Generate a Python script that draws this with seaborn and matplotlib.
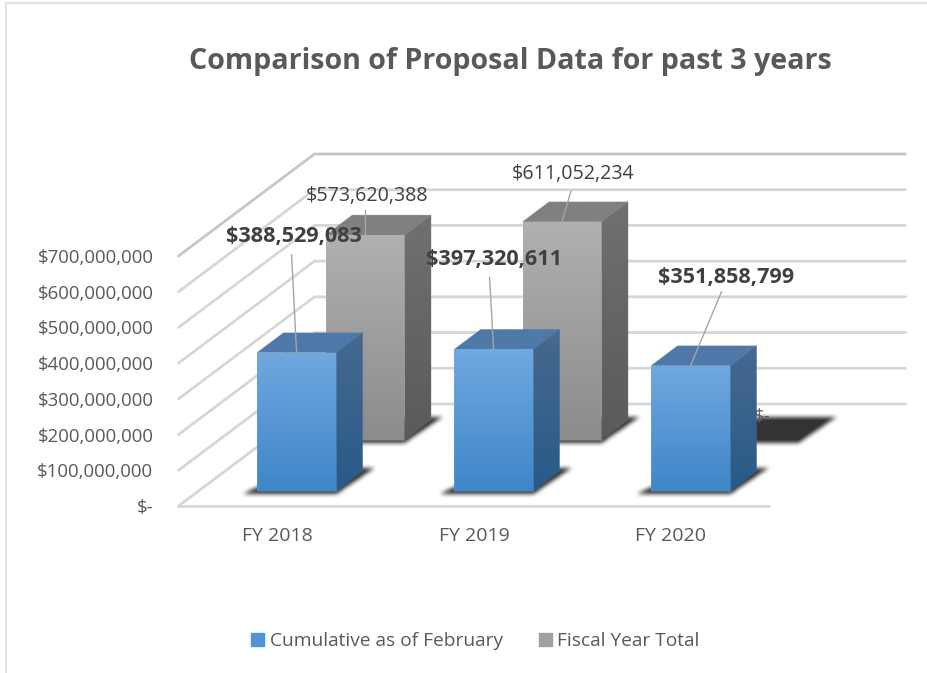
import numpy as np
import pandas as pd
import seaborn as sns
import matplotlib.pyplot as plt
from matplotlib.colors import LinearSegmentedColormap
from matplotlib.lines import Line2D
from matplotlib.path import Path
from matplotlib.patches import Patch, Polygon
from matplotlib.transforms import IdentityTransform

# values
years = ["FY 2018", "FY 2019", "FY 2020"]
cumulative = [388529083, 397320611, 351858799]
fiscal_total = [573620388, 611052234, 0]
series_names = ["Cumulative as of February", "Fiscal Year Total"]
tick_values = [0, 100000000, 200000000, 300000000, 400000000, 500000000, 600000000, 700000000]

W, H = 928, 673
sns.set_theme(style="white")
plt.rcParams["font.family"] = ["Open Sans", "DejaVu Sans"]

df = pd.DataFrame({
    "year": years * 2,
    "value": cumulative + fiscal_total,
    "series": [series_names[0]] * 3 + [series_names[1]] * 3,
})

fig = plt.figure(figsize=(W / 100, H / 100), dpi=100)
ax = fig.add_axes([178.5 / W, (H - 506) / H, 591 / W, 250 / H])

sns.barplot(data=df, x="year", y="value", hue="series", dodge=False, width=0.4,
            palette=["#4f94d6", "#a0a0a0"], legend=False, ax=ax, zorder=5)
ax.set_ylim(0, 700000000)
ax.set_xlim(-0.5, 2.5)
ax.set_autoscale_on(False)
ax.set_xlabel("")
ax.set_ylabel("")
sns.despine(ax=ax, left=True, bottom=True)

# depth of the fake 3d box, in pixels
WALL_DX, WALL_DY = 136, 102
BAR_DX, BAR_DY = 26.6, 20
SERIES_DEPTH = {series_names[0]: 0.144, series_names[1]: 0.647}
ident = IdentityTransform()


def proj(x, val, depth):
    px, py = ax.transData.transform((x, val))
    return px + WALL_DX * depth, py + WALL_DY * depth


def shaded(verts, c_top, c_bot, z):
    # gradient clipped to a polygon, in display pixels
    verts = np.array(verts)
    cmap = LinearSegmentedColormap.from_list("g", [c_top, c_bot])
    im = ax.imshow(np.linspace(0, 1, 64).reshape(-1, 1), cmap=cmap, aspect="auto",
                   extent=(verts[:, 0].min(), verts[:, 0].max(), verts[:, 1].min(), verts[:, 1].max()),
                   transform=ident, zorder=z, interpolation="bilinear")
    im.set_clip_path(Polygon(verts, transform=ident))
    im.set_clip_box(fig.bbox)
    edge = Polygon(verts, closed=True, fill=False, edgecolor=c_top, lw=0.5, alpha=0.5,
                   transform=ident, zorder=z + 0.01, clip_on=False)
    ax.add_artist(edge)


def blur(a, n=5):
    k = np.ones(n) / n
    for _ in range(2):
        a = np.apply_along_axis(lambda r: np.convolve(r, k, mode="same"), 0, a)
        a = np.apply_along_axis(lambda r: np.convolve(r, k, mode="same"), 1, a)
    return a


def shadow(l, r, base, z):
    # soft shadow on the floor: polygon mask, blurred, drawn as an rgba image
    pts = np.array([(l - 14, base - 2.5), (r, base - 3), (r + 38, base + 23), (l + 40, base + 23)])
    x0, x1 = int(pts[:, 0].min()) - 12, int(pts[:, 0].max()) + 12
    y0, y1 = int(pts[:, 1].min()) - 12, int(pts[:, 1].max()) + 12
    xx, yy = np.meshgrid(np.arange(x0, x1) + 0.5, np.arange(y0, y1) + 0.5)
    mask = Path(pts).contains_points(np.c_[xx.ravel(), yy.ravel()]).reshape(xx.shape).astype(float)
    rgba = np.zeros(mask.shape + (4,))
    rgba[..., :3] = 0.13
    rgba[..., 3] = blur(mask) * 0.95
    im = ax.imshow(rgba, origin="lower", extent=(x0, x1, y0, y1), aspect="auto", transform=ident,
                   zorder=z, interpolation="bilinear")
    im.set_clip_box(fig.bbox)


# walls and floor
GRID = "#d6d6d6"
for v in tick_values:
    x0, y0 = proj(-0.5, v, 0)
    x1, y1 = proj(-0.5, v, 1)
    x2, y2 = proj(2.5, v, 1)
    col = "#c6c6c6" if v == tick_values[-1] else GRID
    ax.add_artist(Line2D([x0, x1, x2], [y0, y1, y2], color=col, lw=2, transform=ident,
                         zorder=1, clip_on=False, solid_capstyle="round", solid_joinstyle="round"))
x0, y0 = proj(-0.5, 0, 0)
x1, y1 = proj(2.5, 0, 0)
ax.add_artist(Line2D([x0, x1], [y0, y1], color=GRID, lw=2, transform=ident, zorder=1, clip_on=False))

# colours of each bar face: front top, front bottom, side top, side bottom, top face
FACES = {
    series_names[0]: ("#70a8e0", "#3f86c8", "#46698f", "#285a88", "#4f79a8"),
    series_names[1]: ("#b0b0b0", "#8c8c8c", "#707070", "#5a5a5a", "#808080"),
}
Z_BASE = {series_names[1]: 3, series_names[0]: 6}

bars = {}
n = 0
for s in series_names:
    vals = cumulative if s == series_names[0] else fiscal_total
    d = SERIES_DEPTH[s]
    for i, v in enumerate(vals):
        patch = ax.patches[n]
        n += 1
        patch.set_visible(False)
        left, right = patch.get_x(), patch.get_x() + patch.get_width()
        lx, by = proj(left, 0, d)
        rx, ty = proj(right, v, d)
        z = Z_BASE[s]
        shadow(lx, rx, by, z)
        c = FACES[s]
        if v == 0:
            ax.add_artist(Polygon([(lx, by), (rx, by), (rx + BAR_DX, by + BAR_DY), (lx + BAR_DX, by + BAR_DY)],
                                  closed=True, color="#333333", lw=0, transform=ident, zorder=z + 0.2, clip_on=False))
        else:
            shaded([(lx, by), (rx, by), (rx, ty), (lx, ty)], c[0], c[1], z + 0.3)
            shaded([(rx, by), (rx + BAR_DX, by + BAR_DY), (rx + BAR_DX, ty + BAR_DY), (rx, ty)], c[2], c[3], z + 0.2)
            shaded([(lx, ty), (rx, ty), (rx + BAR_DX, ty + BAR_DY), (lx + BAR_DX, ty + BAR_DY)], c[4], c[4], z + 0.2)
        bars[(s, i)] = ((lx + rx) / 2, ty)

ax.set_xlim(-0.5, 2.5)
ax.set_ylim(0, 700000000)


def money(v):
    return "$-" if v == 0 else "${:,.0f}".format(v)


ax.set_yticks(tick_values)
ax.set_yticklabels([money(v) for v in tick_values])
ax.tick_params(axis="y", length=0, pad=18, labelsize=13.4, labelcolor="#595959")
ax.tick_params(axis="x", length=0, pad=15, labelsize=14, labelcolor="#595959")
ax.patch.set_visible(False)

# data labels: text centre and leader start as pixel offset from the anchor on top of the bar
LABEL_OFF = {
    (series_names[0], 0): (-3, 116, -5, 98, 0),
    (series_names[0], 1): (0, 90, -4, 72, 0),
    (series_names[0], 2): (35, 88, 31, 74, 0),
    (series_names[1], 0): (2, 39, 0, 25, 0),
    (series_names[1], 1): (11, 48, 9, 31, 0),
}
for s in series_names:
    vals = cumulative if s == series_names[0] else fiscal_total
    for i, v in enumerate(vals):
        ax_, ay_ = bars[(s, i)]
        if v == 0:
            ax.text(ax_ + 3, ay_ + 23, money(v), transform=ident, fontsize=13.5, color="#595959",
                    ha="center", va="center", zorder=20, clip_on=False)
            continue
        o = LABEL_OFF[(s, i)]
        bold = s == series_names[0]
        ax.text(ax_ + o[0], ay_ + o[1], money(v), transform=ident, fontsize=15.6 if bold else 14.1,
                fontweight="bold" if bold else "normal", color="#404040",
                ha="center", va="center", zorder=20, clip_on=False)
        ax.add_artist(Line2D([ax_ + o[2], ax_], [ay_ + o[3], ay_], color="#a6a6a6", lw=1,
                             transform=ident, zorder=12, clip_on=False))

fig.text(510 / W, (H - 61) / H, "Comparison of Proposal Data for past 3 years", fontsize=20.65,
         fontweight="bold", color="#595959", ha="center", va="center")

handles = [Patch(color="#4f94d6", label=series_names[0]), Patch(color="#a0a0a0", label=series_names[1])]
fig.legend(handles=handles, loc="center", bbox_to_anchor=(475.5 / W, (H - 641.5) / H), ncol=2, frameon=False,
           fontsize=13.8, labelcolor="#595959", handlelength=0.68, handleheight=0.68,
           handletextpad=0.3, columnspacing=1.85, borderpad=0)

# thin frame of the pasted chart, left and top only
fig.add_artist(Line2D([6 / W, 6 / W, 1], [0, (H - 3) / H, (H - 3) / H], color="#e2e2e2", lw=1.5,
                      transform=fig.transFigure))

fig.savefig("out.png", dpi=100)
